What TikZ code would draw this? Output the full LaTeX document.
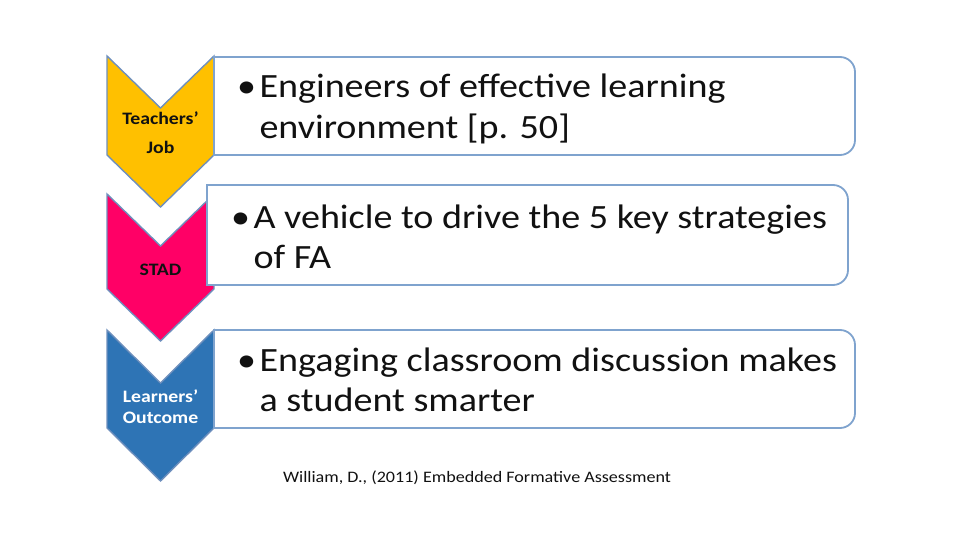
\documentclass[tikz,border=0pt]{standalone}
\usepackage{fontspec}
\usepackage{graphicx}
\setmainfont{Carlito}
\definecolor{cyel}{HTML}{FFC000}
\definecolor{cpink}{HTML}{FF0066}
\definecolor{cblue}{HTML}{2E74B5}
\definecolor{chevline}{HTML}{6E8FBD}
\definecolor{boxline}{HTML}{7FA3CE}
\definecolor{txt}{HTML}{111111}
\newcommand\chevshape[4]{% fill, ytop, ybottom-of-sides, depth
  \draw[chev, fill=#1] (107,#2) -- (160.5,#2+#4) -- (214,#2) -- (214,#3) -- (160.5,#3+#4) -- (107,#3) -- cycle;}
\newcommand\rboxshape[4]{% x1,y1,x2,y2
  \draw[rbox] (#1,#4) -- (#1,#2) -- (#3-15,#2) arc[start angle=-90,end angle=0,radius=15] -- (#3,#4-15) arc[start angle=0,end angle=90,radius=15] -- cycle;}
\newcommand\wide[1]{\scalebox{1.13}[1]{#1}}
\newcommand\widebox[1]{\scalebox{1.12}[1]{#1}}
\begin{document}
\begin{tikzpicture}[x=1pt,y=-1pt,
  chev/.style={draw=chevline, line width=1.4pt, line join=miter},
  rbox/.style={draw=boxline, line width=1.8pt, fill=white},
  lab/.style={font=\fontsize{17.5}{29}\selectfont\bfseries, text=txt, align=center, inner sep=0pt},
  boxtext/.style={font=\fontsize{34}{40.5}\selectfont, text=txt, inner sep=0pt, anchor=base west},
  cite/.style={font=\fontsize{16}{18}\selectfont, text=txt, inner sep=0pt}]
\useasboundingbox (0,0) rectangle (960,540);
\fill[white] (0,0) rectangle (960,540);
% chevrons
\chevshape{cyel}{56}{155}{52}
\chevshape{cpink}{194}{289}{52}
\chevshape{cblue}{330}{428}{53}
% boxes
\rboxshape{214}{57}{855}{155}
\rboxshape{207}{185}{848}{285}
\rboxshape{214}{330}{855}{428}
% chevron labels
\node[lab] (l1) at (160.5,132.5) {\wide{Teachers’}\\\wide{Job}};
\node[lab] (l2) at (160.5,270) {\wide{STAD}};
\node[lab, text=white, font=\fontsize{17.5}{21}\selectfont\bfseries] (l3) at (160.5,406.5) {\wide{Learners’}\\\wide{Outcome}};
% box texts
\node[boxtext] (t1) at (237,98) {\widebox{\begin{tabular}[t]{@{}l@{\hspace{3pt}}l@{}}\textbullet & Engineers of effective learning\\ & environment [p. 50]\end{tabular}}};
\node[boxtext] (t2) at (231,228) {\widebox{\begin{tabular}[t]{@{}l@{\hspace{3pt}}l@{}}\textbullet & A vehicle to drive the 5 key strategies\\ & of FA\end{tabular}}};
\node[boxtext] (t3) at (237,371) {\widebox{\begin{tabular}[t]{@{}l@{\hspace{3pt}}l@{}}\textbullet & Engaging classroom discussion makes\\ & a student smarter\end{tabular}}};
% citation
\node[cite] (c) at (477,478) {\wide{William, D., (2011) Embedded Formative Assessment}};
\end{tikzpicture}
\end{document}
